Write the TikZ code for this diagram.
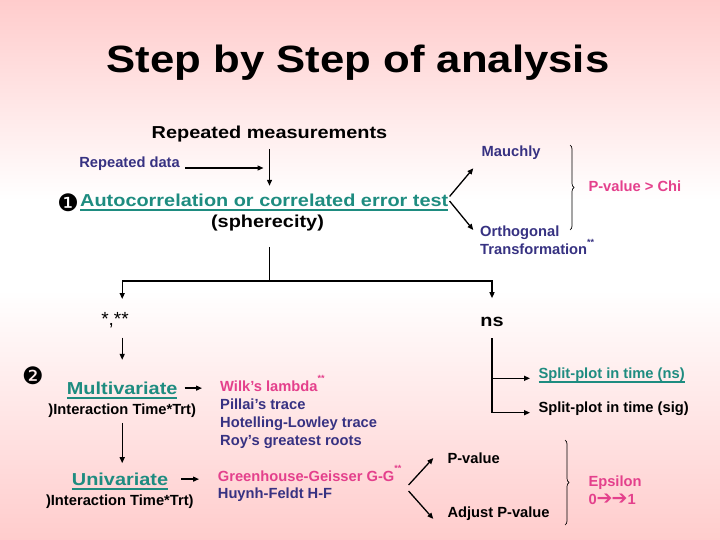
\documentclass[tikz,border=0pt]{standalone}
\usepackage{fontspec}
\setmainfont{Liberation Sans}
\newfontfamily\widefont{Liberation Sans}[FakeStretch=1.15]
\newfontfamily\dingfont{DejaVu Sans}
\usetikzlibrary{positioning,arrows.meta,decorations.pathreplacing}
\definecolor{bgclr}{RGB}{255,204,204}
\definecolor{tealclr}{RGB}{30,140,128}
\definecolor{blueclr}{RGB}{55,50,130}
\definecolor{pinkclr}{RGB}{228,64,140}
\newcommand\lined[1]{\setbox0=\hbox{#1}\rlap{\rule[-4.2pt]{\wd0}{1.3pt}}\box0}
\newcommand\twostar{\smash{\raisebox{1.2ex}{\fontsize{9}{9}\selectfont **}}}
\tikzset{
  heading/.style={font=\widefont\bfseries\fontsize{38}{40}\selectfont,inner sep=0pt},
  bigtxt/.style={font=\widefont\bfseries\fontsize{17.3}{20}\selectfont,inner sep=1pt},
  smalltxt/.style={font=\bfseries\fontsize{14.7}{17.8}\selectfont,inner sep=1pt},
  note/.style={smalltxt,text=blueclr},
  hint/.style={smalltxt,text=pinkclr},
  link/.style={text=tealclr},
  num/.style={font=\dingfont\fontsize{24}{24}\selectfont,inner sep=0pt},
  edge/.style={-{Triangle[length=6pt,width=5pt]},line width=1.3pt},
  bar/.style={line width=1.3pt},
  curly/.style={decorate,decoration={brace,amplitude=4pt},line width=0.7pt},
}
\begin{document}
\begin{tikzpicture}[x=1pt, y=-1pt]
\useasboundingbox (0,0) rectangle (720,540);
\shade[top color=bgclr, bottom color=white] (0,0) rectangle (720,200);
\fill[white] (0,200) rectangle (720,290);
\shade[top color=white, bottom color=bgclr] (0,290) rectangle (720,540);

\node[heading, anchor=base] (ttl) at (358,73) {Step by Step of analysis};
\node[bigtxt, anchor=base] (repm) at (269.5,139) {Repeated measurements};
\node[note, anchor=base east] (rdata) at (181,168) {Repeated data};
\node[bigtxt, link, anchor=base west] (auto) at (79,206.5)
      {\lined{Autocorrelation or correlated error test}};
\node[num, left=0pt of auto] (one) {❶};
\node[bigtxt, anchor=base] (sph) at (267.5,228) {(spherecity)};
\node[note, anchor=base west] (mau) at (480.5,157) {Mauchly};
\node[note, anchor=north west, align=left] (orth) at (479,224.8)
      {Orthogonal\\Transformation\twostar};
\node[hint, anchor=base west] (chi) at (587.3,191.7) {P-value > Chi};

\coordinate (fork) at (269.3,281);
\node[font=\fontsize{19}{20}\selectfont, inner sep=1pt, anchor=base] (stars) at (115,325) {*,**};
\node[bigtxt, anchor=base] (ns) at (492,326.7) {ns};

\node[num] (two) at (33,376) {❷};
\node[bigtxt, link, anchor=base] (multi) at (122.2,394.3) {\lined{Multivariate}};
\node[smalltxt, anchor=base] (inter1) at (122.2,414.3) {)Interaction Time*Trt)};
\node[bigtxt, link, anchor=base] (uni) at (120,485.3) {\lined{Univariate}};
\node[smalltxt, anchor=base] (inter2) at (119.8,505) {)Interaction Time*Trt)};
\node[note, anchor=north west, align=left, font=\bfseries\fontsize{14.7}{18}\selectfont] (mvtests) at (219,379.3)
      {\textcolor{pinkclr}{Wilk’s lambda\twostar}\\Pillai’s trace\\Hotelling-Lowley trace\\Roy’s greatest roots};
\node[note, anchor=north west, align=left, font=\bfseries\fontsize{14.7}{17.3}\selectfont] (uvtests) at (216.7,469.3)
      {\textcolor{pinkclr}{Greenhouse-Geisser G-G\twostar}\\Huynh-Feldt H-F};
\node[smalltxt, anchor=base west] (pval) at (446.3,463.3) {P-value};
\node[smalltxt, anchor=base west] (adjp) at (446.3,517.2) {Adjust P-value};
\node[hint, anchor=north west, align=left, font=\bfseries\fontsize{14.7}{17.6}\selectfont] (eps) at (587.3,475)
      {Epsilon\\0{\dingfont\fontsize{19}{17.6}\selectfont ➔\kern-1pt➔}1};
\node[link, smalltxt, anchor=base west] (spns) at (537.3,378.3) {\lined{Split-plot in time (ns)}};
\node[smalltxt, anchor=base west] (spsig) at (537.3,412.7) {Split-plot in time (sig)};

\draw[edge, shorten <=5pt, shorten >=7pt] (repm.south) -- (repm.south |- auto.north);
\draw[edge, shorten <=4pt, shorten >=6pt] (rdata.base east) -- (rdata.base east -| repm.south);
\draw[edge] ([yshift=10pt]auto.base east) -- ([xshift=-7.2pt,yshift=-11.3pt]mau.base west);
\draw[edge] ([yshift=5.5pt]auto.base east) -- ([xshift=-5.7pt,yshift=-5.2pt]orth.north west);
\draw[curly] (570,145) -- (570,230);
\draw[bar, shorten <=14pt] (sph.south -| fork) -- (fork);
\draw[edge, shorten >=11.7pt] (fork) -| (stars.north -| multi.north);
\draw[edge, shorten >=18pt] (fork) -| (ns.north);
\draw[edge, shorten <=9pt, shorten >=20.7pt] (stars.south -| multi.north) -- (multi.north);
\draw[edge, shorten <=6pt, shorten >=17pt] ([yshift=2pt]multi.east) -- ([yshift=2pt]multi.east -| mvtests.west);
\draw[edge, shorten <=4.3pt, shorten >=8.4pt] (inter1.south) -- (inter1.south |- uni.north);
\draw[edge, shorten <=12pt, shorten >=17.7pt] ([yshift=2pt]uni.east) -- ([yshift=2pt]uni.east -| uvtests.west);
\draw[edge] ([xshift=6pt,yshift=1pt]uvtests.east) -- ([xshift=-13pt]pval.west);
\draw[edge] ([xshift=6pt,yshift=-5pt]uvtests.east) -- ([xshift=-13pt,yshift=-5.5pt]adjp.west);
\draw[bar, shorten <=10pt] (ns.south) -- (ns.south |- spsig.base west);
\draw[edge, shorten >=7.3pt] (ns.south |- spns.base west) -- (spns.base west);
\draw[edge, shorten >=7.3pt] (ns.south |- spsig.base west) -- (spsig.base west);
\draw[curly] (565,440) -- (565,525);
\end{tikzpicture}
\end{document}
